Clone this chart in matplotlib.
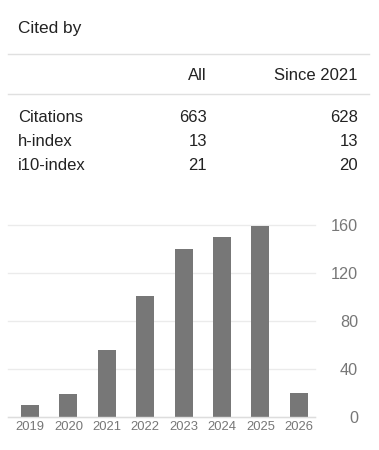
import matplotlib
matplotlib.use("Agg")
import matplotlib.pyplot as plt
from matplotlib.lines import Line2D

plt.rcParams["font.family"] = ["Liberation Sans", "DejaVu Sans"]

# Table data
col_labels = ["All", "Since 2021"]
row_labels = ["Citations", "h-index", "i10-index"]
all_vals = [663, 13, 21]
since_vals = [628, 13, 20]

# Chart data
years = ["2019", "2020", "2021", "2022", "2023", "2024", "2025", "2026"]
counts = [10, 19, 56, 101, 140, 150, 159, 20]
yticks = [0, 40, 80, 120, 160]

W, H = 379, 450
fig = plt.figure(figsize=(W / 100, H / 100), dpi=100)


def fx(px):
    return px / W


def fy(py):
    return 1 - py / H


dark = "#222222"
grey = "#777777"
line = "#e0e0e0"

fig.text(fx(18), fy(33), "Cited by", fontsize=12.4, color=dark, va="baseline")
for y in (54, 94):
    fig.add_artist(Line2D([fx(8), fx(369)], [fy(y), fy(y)], color=line, lw=1))

fig.text(fx(207), fy(80), col_labels[0], fontsize=12, color=dark, ha="right", va="baseline")
fig.text(fx(358), fy(80), col_labels[1], fontsize=12, color=dark, ha="right", va="baseline")
for i, lab in enumerate(row_labels):
    yb = fy(122 + 24 * i)
    fig.text(fx(18), yb, lab, fontsize=12, color=dark, va="baseline")
    fig.text(fx(207), yb, str(all_vals[i]), fontsize=12, color=dark, ha="right", va="baseline")
    fig.text(fx(358), yb, str(since_vals[i]), fontsize=12, color=dark, ha="right", va="baseline")

# bar chart
ax = fig.add_axes([fx(8), fy(417), fx(315) - fx(8), fy(225) - fy(417)])
x = list(range(len(years)))
ax.bar(x, counts, width=0.47, color=grey, zorder=2)
ax.set_xlim(-0.573, 7.42)
ax.set_ylim(0, 160)
ax.set_yticks(yticks)
ax.set_xticks(x)
ax.set_xticklabels(years)
for t in yticks:
    ax.axhline(t, color="#ebebeb", lw=1, zorder=1, clip_on=False)
ax.axhline(0, color="#dddddd", lw=1, zorder=3, clip_on=False)
for s in ax.spines.values():
    s.set_visible(False)
ax.yaxis.tick_right()
ax.tick_params(axis="y", length=0, pad=31, labelsize=11.7, labelcolor=grey)
ax.tick_params(axis="x", length=0, pad=3, labelsize=9.4, labelcolor=grey)
for lbl in ax.get_yticklabels():
    lbl.set_horizontalalignment("right")

fig.savefig("out.png", dpi=100)
